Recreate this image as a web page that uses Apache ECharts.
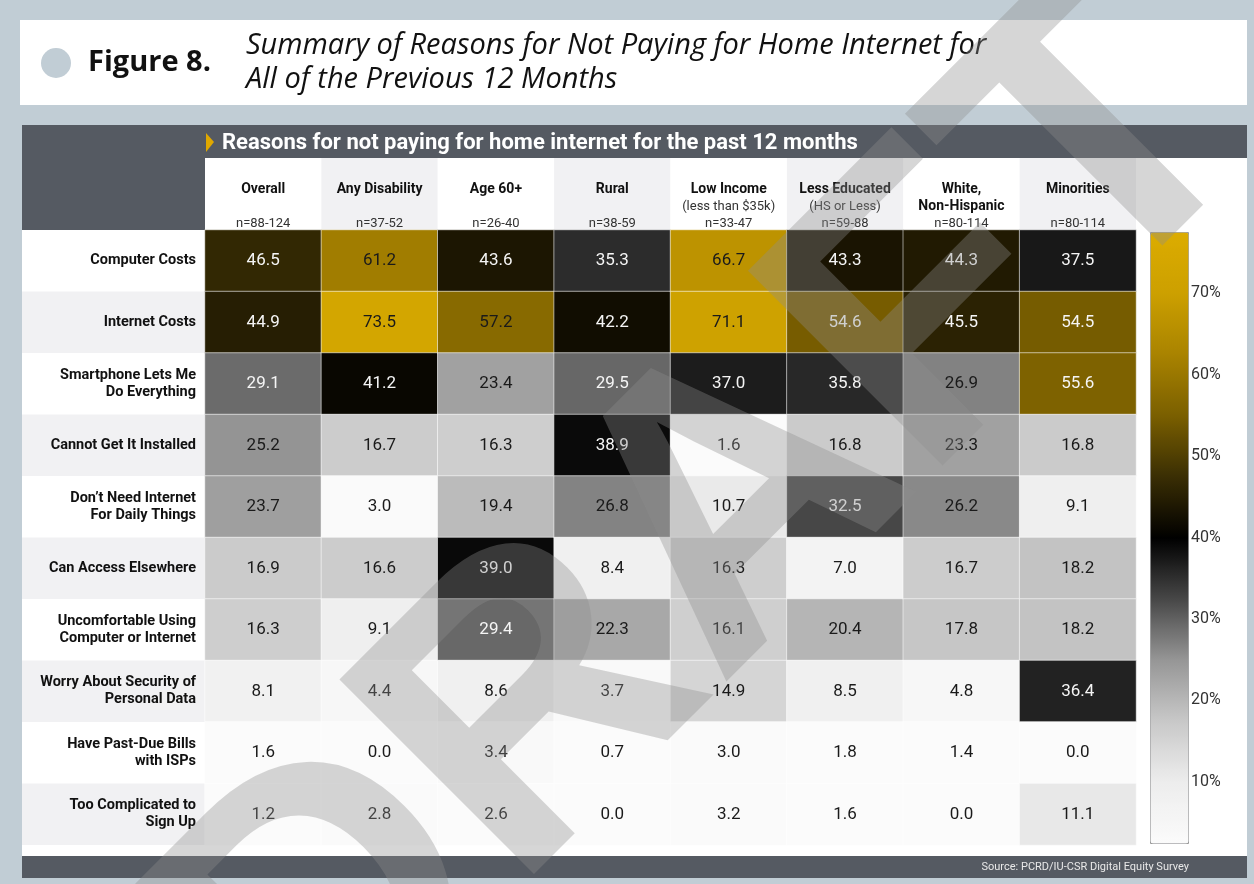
<!DOCTYPE html>
<html>
<head>
<meta charset="utf-8">
<title>Figure 8</title>
<script src="https://cdn.jsdelivr.net/npm/echarts@6/dist/echarts.min.js"></script>
<style>
  html, body { margin: 0; padding: 0; background: #c1cdd5; }
  #chart { width: 1254px; height: 884px; }
</style>
</head>
<body>
<div id="chart"></div>
<script>
// rows (reasons), top to bottom
var reasons = [
    'Computer Costs',
    'Internet Costs',
    'Smartphone Lets Me\nDo Everything',
    'Cannot Get It Installed',
    'Don\u2019t Need Internet\nFor Daily Things',
    'Can Access Elsewhere',
    'Uncomfortable Using\nComputer or Internet',
    'Worry About Security of\nPersonal Data',
    'Have Past-Due Bills\nwith ISPs',
    'Too Complicated to\nSign Up'
];

// column headers
var groupNames = ['Overall', 'Any Disability', 'Age 60+', 'Rural', 'Low Income', 'Less Educated', 'White,', 'Minorities'];
var groupSub = ['', '', '', '', '(less than $35k)', '(HS or Less)', 'Non-Hispanic', ''];
var groupN = ['n=88-124', 'n=37-52', 'n=26-40', 'n=38-59', 'n=33-47', 'n=59-88', 'n=80-114', 'n=80-114'];

// values (%) per group, same order as reasons
var overall       = [46.5, 44.9, 29.1, 25.2, 23.7, 16.9, 16.3, 8.1, 1.6, 1.2];
var anyDisability = [61.2, 73.5, 41.2, 16.7, 3.0, 16.6, 9.1, 4.4, 0.0, 2.8];
var age60         = [43.6, 57.2, 23.4, 16.3, 19.4, 39.0, 29.4, 8.6, 3.4, 2.6];
var rural         = [35.3, 42.2, 29.5, 38.9, 26.8, 8.4, 22.3, 3.7, 0.7, 0.0];
var lowIncome     = [66.7, 71.1, 37.0, 1.6, 10.7, 16.3, 16.1, 14.9, 3.0, 3.2];
var lessEducated  = [43.3, 54.6, 35.8, 16.8, 32.5, 7.0, 20.4, 8.5, 1.8, 1.6];
var whiteNH       = [44.3, 45.5, 26.9, 23.3, 26.2, 16.7, 17.8, 4.8, 1.4, 0.0];
var minorities    = [37.5, 54.5, 55.6, 16.8, 9.1, 18.2, 18.2, 36.4, 0.0, 11.1];

// colour bar ticks
var scaleTicks = [10, 20, 30, 40, 50, 60, 70];

var columns = [overall, anyDisability, age60, rural, lowIncome, lessEducated, whiteNH, minorities];

// heatmap data [col, row, value]
var cells = [];
columns.forEach(function (col, c) {
    col.forEach(function (v, r) {
        var dark = v > 28 && v < 56;
        cells.push({
            value: [c, r, v],
            label: { color: dark ? '#f5f5f5' : '#1a1a1a' }
        });
    });
});

var chart = echarts.init(document.getElementById('chart'));

var FONT = 'Roboto';

var option = {
    backgroundColor: '#c1cdd5',
    animation: false,
    textStyle: { fontFamily: FONT },
    grid: [
        // row stripes (labels column + body)
        { left: 22, right: 118, top: 230, bottom: 39 },
        // column header background
        { left: 205, right: 118, top: 158, height: 72 },
        // heatmap
        { left: 205, right: 118, top: 230, bottom: 39 },
        // colour bar axis
        { left: 1150, width: 38, top: 232, height: 611 }
    ],
    xAxis: [
        { gridIndex: 0, type: 'value', show: false },
        {
            gridIndex: 1, type: 'category', data: groupNames,
            axisLine: { show: false }, axisTick: { show: false }, axisLabel: { show: false },
            splitArea: { show: true, areaStyle: { color: ['#ffffff', '#f1f1f3'] } }
        },
        {
            gridIndex: 2, type: 'category', data: groupNames, position: 'top',
            axisLine: { show: false }, axisTick: { show: false },
            axisLabel: {
                margin: -2,
                interval: 0,
                formatter: function (value, idx) {
                    var sub = groupSub[idx] === '' ? ' ' : groupSub[idx];
                    var subStyle = idx === 6 ? 'b' : 's';
                    return '{b|' + value + '}\n{' + subStyle + '|' + sub + '}\n{n|' + groupN[idx] + '}';
                },
                rich: {
                    b: { fontFamily: FONT, fontWeight: 'bold', fontSize: 14, color: '#111', lineHeight: 17, align: 'center' },
                    s: { fontFamily: FONT, fontSize: 13, color: '#333', lineHeight: 17, align: 'center' },
                    n: { fontFamily: FONT, fontSize: 13, color: '#333', lineHeight: 17, align: 'center' }
                }
            }
        },
        { gridIndex: 3, type: 'value', show: false }
    ],
    yAxis: [
        {
            gridIndex: 0, type: 'category', data: reasons, inverse: true,
            axisLine: { show: false }, axisTick: { show: false }, axisLabel: { show: false },
            splitArea: { show: true, areaStyle: { color: ['#ffffff', '#f1f1f3'] } }
        },
        { gridIndex: 1, type: 'value', show: false },
        {
            gridIndex: 2, type: 'category', data: reasons, inverse: true,
            axisLine: { show: false }, axisTick: { show: false },
            axisLabel: {
                margin: 9,
                interval: 0,
                fontFamily: FONT,
                fontWeight: 'bold',
                fontSize: 14.5,
                lineHeight: 17,
                color: '#111',
                align: 'right'
            }
        },
        {
            gridIndex: 3, type: 'value', position: 'right', min: 2.5, max: 77.5,
            splitLine: { show: false },
            axisLine: { show: false },
            axisTick: { show: true, length: 8, customValues: scaleTicks, lineStyle: { color: '#999' } },
            axisLabel: {
                customValues: scaleTicks, formatter: '{value}%', margin: 3,
                fontFamily: FONT, fontSize: 16, color: '#333'
            }
        }
    ],
    visualMap: {
        type: 'continuous',
        seriesIndex: 0,
        min: 2.5,
        max: 77.5,
        calculable: false,
        orient: 'vertical',
        left: 1150,
        top: 232,
        itemWidth: 38,
        itemHeight: 611,
        padding: 0,
        borderColor: '#999',
        borderWidth: 1,
        inRange: {
            color: ['#fbfbfb', '#ededed', '#c8c8c8', '#969696', '#474747', '#000000',
                    '#3a2e04', '#7a5f00', '#a98300', '#cca000', '#dcac00']
        }
    },
    series: [
        {
            type: 'heatmap',
            xAxisIndex: 2,
            yAxisIndex: 2,
            data: cells,
            itemStyle: { borderColor: 'rgba(255,255,255,0.55)', borderWidth: 1 },
            label: {
                show: true, fontFamily: FONT, fontSize: 17,
                formatter: function (p) { return p.value[2].toFixed(1); }
            },
            emphasis: { disabled: true }
        }
    ],
    graphic: [
        // title box
        { type: 'rect', z: -10, shape: { x: 20, y: 20, width: 1227, height: 85 }, style: { fill: '#ffffff' } },
        { type: 'circle', z: -9, shape: { cx: 56, cy: 63, r: 15 }, style: { fill: '#c1cdd5' } },
        {
            type: 'text', z: -9, left: 88, top: 44,
            style: { text: 'Figure 8.', fontFamily: 'Open Sans', fontWeight: 'bold', fontSize: 29, lineHeight: 38, fill: '#111' }
        },
        {
            type: 'text', z: -9, left: 246, top: 29,
            style: {
                text: 'Summary of Reasons for Not Paying for Home Internet for\nAll of the Previous 12 Months',
                fontFamily: 'Open Sans', fontStyle: 'italic', fontSize: 29, lineHeight: 34, fill: '#111'
            }
        },
        // table body background
        { type: 'rect', z: -10, shape: { x: 22, y: 158, width: 1225, height: 698 }, style: { fill: '#ffffff' } },
        // dark header bar and left header block
        { type: 'rect', z: -9, shape: { x: 22, y: 125, width: 1225, height: 33 }, style: { fill: '#555a62' } },
        { type: 'rect', z: -9, shape: { x: 22, y: 125, width: 183, height: 105 }, style: { fill: '#555a62' } },
        { type: 'polygon', z: -8, shape: { points: [[206, 133], [214, 142], [206, 152]] }, style: { fill: '#e0a800' } },
        {
            type: 'text', z: -8, left: 222, top: 131,
            style: { text: 'Reasons for not paying for home internet for the past 12 months', fontFamily: FONT, fontWeight: 'bold', fontSize: 22, lineHeight: 24, fill: '#ffffff' }
        },
        // footer bar
        { type: 'rect', z: -9, shape: { x: 22, y: 856, width: 1225, height: 22 }, style: { fill: '#555a62' } },
        {
            type: 'text', z: -8, right: 65, top: 862,
            style: { text: 'Source: PCRD/IU-CSR Digital Equity Survey', fontFamily: FONT, fontSize: 11, fill: '#e8e8e8' }
        },
        // watermark
        {
            type: 'text', z: 200, x: 712, y: 540, rotation: Math.PI / 4,
            style: {
                text: 'DRAFT', fontFamily: 'Liberation Sans', fontWeight: 'bold', fontSize: 400,
                fill: 'rgba(140,140,140,0.36)', align: 'center', verticalAlign: 'middle'
            }
        }
    ]
};

chart.setOption(option);
</script>
</body>
</html>
